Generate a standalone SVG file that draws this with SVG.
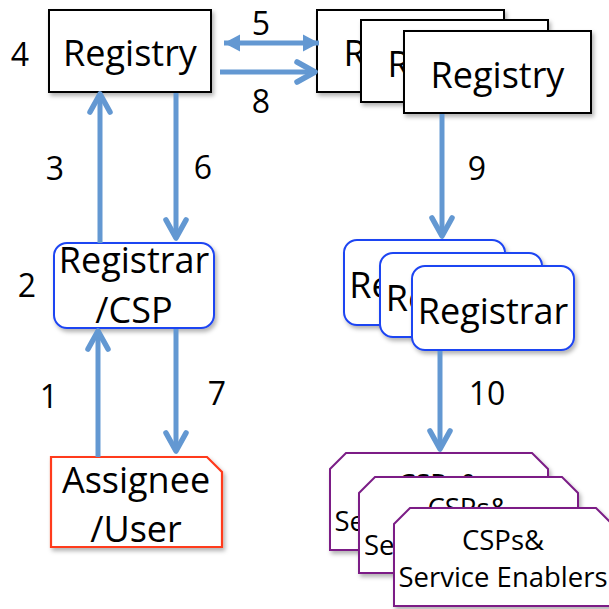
<svg xmlns="http://www.w3.org/2000/svg" width="609" height="609" viewBox="0 0 609 609">
  <style>
    text { font-family: "Open Sans", "Noto Sans", "Liberation Sans", sans-serif; fill: #000; }
    .big { font-size: 36px; text-anchor: middle; }
    .mid { font-size: 27.5px; text-anchor: middle; }
    .num { font-size: 32px; text-anchor: middle; }
    .reg { fill: #fff; stroke: #000; stroke-width: 2; filter: url(#shadow); }
    .rar { fill: #fff; stroke: #1f45f2; stroke-width: 2; filter: url(#shadow); }
    .usr { fill: #fff; stroke: #ff3a1c; stroke-width: 2.2; filter: url(#shadow); }
    .csp { fill: #fff; stroke: #7b1f86; stroke-width: 2; filter: url(#shadow); }
    .flow { fill: none; stroke: #6398d2; stroke-width: 5; }
  </style>
  <defs>
    <filter id="shadow" x="-10%" y="-10%" width="130%" height="140%">
      <feDropShadow dx="2" dy="3" stdDeviation="2" flood-color="#000" flood-opacity="0.3"/>
    </filter>
    <marker id="chev" markerUnits="userSpaceOnUse" viewBox="-26 -16 30 32" refX="0" refY="0" markerWidth="30" markerHeight="32" orient="auto" overflow="visible">
      <path d="M-18,-10 L0,0 L-18,10" fill="none" stroke="#6398d2" stroke-width="5.5" stroke-linecap="round" stroke-linejoin="round"/>
    </marker>
    <marker id="tri" markerUnits="userSpaceOnUse" viewBox="-18 -10 20 20" refX="0" refY="0" markerWidth="20" markerHeight="20" orient="auto-start-reverse" overflow="visible">
      <path d="M-16,-8.5 L0,0 L-16,8.5 Z" fill="#6398d2"/>
    </marker>
    <!-- visible parts of the labels on the rear cards of each stack -->
    <clipPath id="clip-reg1"><rect x="317" y="10" width="44" height="82"/></clipPath>
    <clipPath id="clip-reg2"><rect x="361" y="20" width="43" height="82"/></clipPath>
    <clipPath id="clip-rar1"><rect x="344" y="240" width="36" height="85"/></clipPath>
    <clipPath id="clip-rar2"><rect x="380" y="253" width="32" height="84"/></clipPath>
    <clipPath id="clip-csp1">
      <rect x="330" y="453" width="218" height="24"/>
      <rect x="330" y="453" width="29" height="97"/>
    </clipPath>
    <clipPath id="clip-csp2">
      <rect x="359" y="477" width="219" height="31"/>
      <rect x="359" y="477" width="35" height="96"/>
    </clipPath>
  </defs>

  <!-- step numbers -->
  <g id="labels">
    <text class="num" x="20" y="66">4</text>
    <text class="num" x="261" y="35">5</text>
    <text class="num" x="261" y="113">8</text>
    <text class="num" x="55" y="180">3</text>
    <text class="num" x="203" y="179">6</text>
    <text class="num" x="27" y="297">2</text>
    <text class="num" x="49" y="408">1</text>
    <text class="num" x="217" y="405">7</text>
    <text class="num" x="477" y="180">9</text>
    <text class="num" x="487" y="405">10</text>
  </g>

  <!-- home registry -->
  <g id="registry">
    <rect class="reg" x="49" y="10" width="162" height="82"/>
    <text class="big" x="130" y="66">Registry</text>
  </g>

  <!-- peer registries (stacked) -->
  <g id="peer-registry-1">
    <rect class="reg" x="317" y="10" width="187" height="82"/>
    <text class="big" x="410.5" y="66" clip-path="url(#clip-reg1)">Registry</text>
  </g>
  <g id="peer-registry-2">
    <rect class="reg" x="361" y="20" width="187" height="82"/>
    <text class="big" x="454.5" y="77" clip-path="url(#clip-reg2)">Registry</text>
  </g>
  <g id="peer-registry-3">
    <rect class="reg" x="404" y="31" width="187" height="82"/>
    <text class="big" x="497.5" y="88">Registry</text>
  </g>

  <!-- registrar / CSP -->
  <g id="registrar-csp">
    <rect class="rar" x="54" y="243" width="160" height="85" rx="13"/>
    <text class="big" x="134" y="273">Registrar</text>
    <text class="big" x="134" y="323">/CSP</text>
  </g>

  <!-- peer registrars (stacked) -->
  <g id="peer-registrar-1">
    <rect class="rar" x="344" y="240" width="161" height="85" rx="13"/>
    <text class="big" x="424.5" y="298" clip-path="url(#clip-rar1)">Registrar</text>
  </g>
  <g id="peer-registrar-2">
    <rect class="rar" x="380" y="253" width="162" height="84" rx="13"/>
    <text class="big" x="461" y="311" clip-path="url(#clip-rar2)">Registrar</text>
  </g>
  <g id="peer-registrar-3">
    <rect class="rar" x="412" y="266" width="162" height="84" rx="13"/>
    <text class="big" x="493" y="324">Registrar</text>
  </g>

  <!-- assignee / user -->
  <g id="assignee">
    <path class="usr" d="M51,457 L207,457 L222,472 L222,547 L51,547 Z"/>
    <text class="big" x="136" y="493">Assignee</text>
    <text class="big" x="136" y="542">/User</text>
  </g>

  <!-- CSPs and service enablers (stacked) -->
  <g id="csp-1">
    <path class="csp" d="M330,469 L346,453 L532,453 L548,469 L548,550 L330,550 Z"/>
    <g clip-path="url(#clip-csp1)">
      <text class="mid" x="439" y="494">CSPs&amp;</text>
      <text class="mid" x="439" y="531">Service Enablers</text>
    </g>
  </g>
  <g id="csp-2">
    <path class="csp" d="M359,493 L375,477 L562,477 L578,493 L578,573 L359,573 Z"/>
    <g clip-path="url(#clip-csp2)">
      <text class="mid" x="468.5" y="518">CSPs&amp;</text>
      <text class="mid" x="468.5" y="555">Service Enablers</text>
    </g>
  </g>
  <g id="csp-3">
    <path class="csp" d="M394,524 L410,508 L596,508 L612,524 L612,606 L394,606 Z"/>
    <text class="mid" x="503" y="550">CSPs&amp;</text>
    <text class="mid" x="503" y="587">Service Enablers</text>
  </g>

  <!-- connectors -->
  <g id="connectors" class="flow">
    <line x1="100" y1="243" x2="100" y2="94" marker-end="url(#chev)"/>
    <line x1="176" y1="93" x2="176" y2="238" marker-end="url(#chev)"/>
    <line x1="98" y1="457" x2="98" y2="331" marker-end="url(#chev)"/>
    <line x1="176" y1="329" x2="176" y2="451" marker-end="url(#chev)"/>
    <line x1="442" y1="114" x2="442" y2="236" marker-end="url(#chev)"/>
    <line x1="440" y1="351" x2="440" y2="449" marker-end="url(#chev)"/>
    <line x1="224" y1="43" x2="319" y2="43" marker-start="url(#tri)" marker-end="url(#tri)"/>
    <line x1="220" y1="72" x2="315" y2="72" marker-end="url(#chev)"/>
  </g>
</svg>
